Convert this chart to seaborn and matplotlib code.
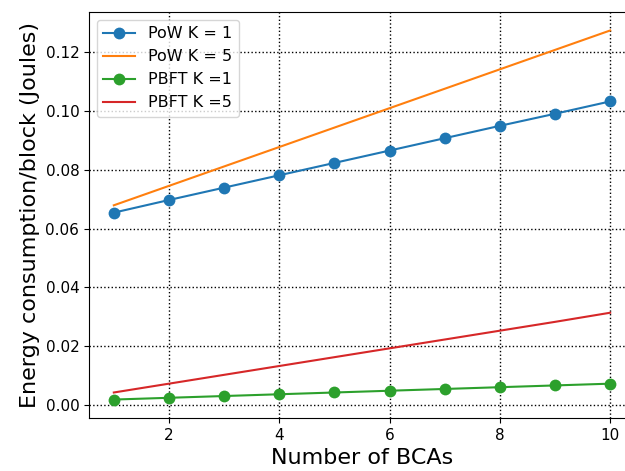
import numpy as np
import pandas as pd
import matplotlib
matplotlib.use('Agg')
import matplotlib.pyplot as plt
import seaborn as sns

bcas = [1, 2, 3, 4, 5, 6, 7, 8, 9, 10]
pow_k1 = [0.0654, 0.0697, 0.0739, 0.0781, 0.0823, 0.0865, 0.0907, 0.0949, 0.0990, 0.1032]
pow_k5 = [0.0679, 0.0745, 0.0811, 0.0877, 0.0943, 0.1009, 0.1075, 0.1141, 0.1207, 0.1273]
pbft_k1 = [0.0019, 0.0025, 0.0031, 0.0037, 0.0043, 0.0049, 0.0055, 0.0061, 0.0067, 0.0073]
pbft_k5 = [0.0043, 0.0073, 0.0103, 0.0133, 0.0163, 0.0193, 0.0223, 0.0253, 0.0283, 0.0314]

fig = plt.figure(figsize=(6.25, 4.71), dpi=100)
# axes run past the right edge of the figure, as in the original
ax = fig.add_axes([0.1424, 0.1125, 0.8736, 0.862])

sns.lineplot(x=bcas, y=pow_k1, marker='o', markersize=8.5, markeredgewidth=0,
             color='C0', label='PoW K = 1', ax=ax)
sns.lineplot(x=bcas, y=pow_k5, color='C1', label='PoW K = 5', ax=ax)
sns.lineplot(x=bcas, y=pbft_k1, marker='o', markersize=8.5, markeredgewidth=0,
             color='C2', label='PBFT K =1', ax=ax)
sns.lineplot(x=bcas, y=pbft_k5, color='C3', label='PBFT K =5', ax=ax)

ax.grid(True, color='black', linestyle=':', linewidth=1)
ax.tick_params(labelsize=11)
ax.set_xlabel('Number of BCAs', fontsize=16)
ax.set_ylabel('Energy consumption/block (Joules)', fontsize=16)
ax.legend(loc='upper left', fontsize=11.5)

plt.savefig('out.png')
